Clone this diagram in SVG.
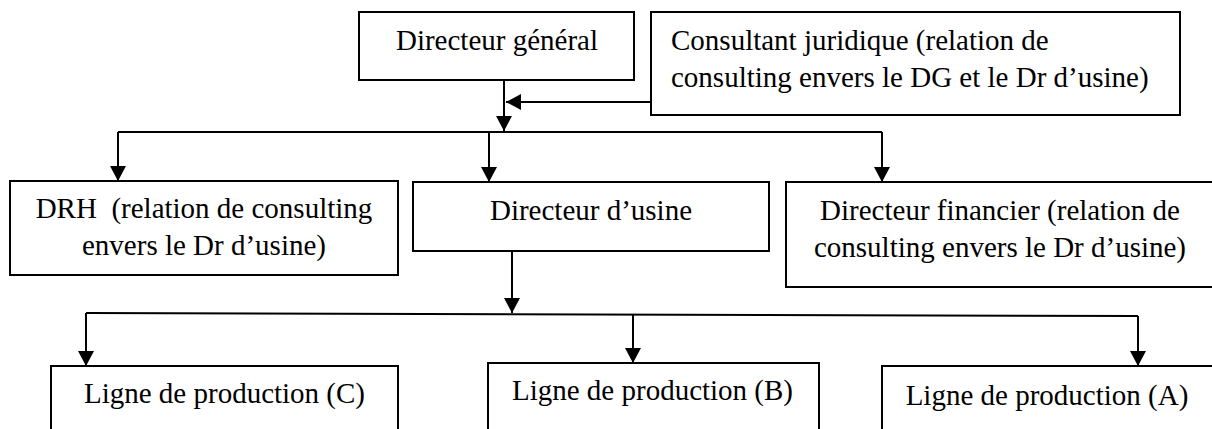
<svg xmlns="http://www.w3.org/2000/svg" width="1212" height="429" viewBox="0 0 1212 429">
  <style>
    .box { fill: #ffffff; stroke: #000000; stroke-width: 2; }
    .lbl { font-family: "Liberation Serif", "Times New Roman", serif; font-size: 29px; fill: #000000; white-space: pre; }
    .mid { text-anchor: middle; }
    .wire { fill: none; stroke: #000000; stroke-width: 2; }
    .arrow { fill: none; stroke: #000000; stroke-width: 2; marker-end: url(#head); }
  </style>
  <defs>
    <!-- solid triangular arrowhead, tip at the end of the line -->
    <marker id="head" viewBox="0 0 15 16" refX="15" refY="8" markerWidth="15" markerHeight="16" markerUnits="userSpaceOnUse" orient="auto">
      <path d="M0,0 L15,8 L0,16 Z" fill="#000000"/>
    </marker>
  </defs>

  <rect width="1212" height="429" fill="#ffffff"/>

  <g id="connectors">
    <path class="arrow" d="M504,80 V131"/>
    <path class="arrow" d="M651,102 H506"/>
    <path class="wire" d="M118,132 H882"/>
    <path class="arrow" d="M118,132 V181"/>
    <path class="arrow" d="M489,132 V182"/>
    <path class="arrow" d="M882,132 V182"/>
    <path class="arrow" d="M512,251 V313"/>
    <path class="wire" d="M86,313 L1138,316"/>
    <path class="arrow" d="M86,313 V366"/>
    <path class="arrow" d="M633,314 V363"/>
    <path class="arrow" d="M1138,316 V366"/>
  </g>

  <g id="directeur-general">
    <rect class="box" x="359" y="12" width="275" height="68"/>
    <text class="lbl mid" x="497" y="50">Directeur général</text>
  </g>

  <g id="consultant-juridique">
    <rect class="box" x="651" y="12" width="529" height="103"/>
    <text class="lbl" x="671" y="50">Consultant juridique (relation de</text>
    <text class="lbl" x="671" y="87">consulting envers le DG et le Dr d’usine)</text>
  </g>

  <g id="drh">
    <rect class="box" x="10" y="181" width="388" height="94"/>
    <text class="lbl mid" x="204" y="218">DRH  (relation de consulting</text>
    <text class="lbl mid" x="204" y="255">envers le Dr d’usine)</text>
  </g>

  <g id="directeur-usine">
    <rect class="box" x="413" y="182" width="356" height="69"/>
    <text class="lbl mid" x="591" y="220">Directeur d’usine</text>
  </g>

  <g id="directeur-financier">
    <rect class="box" x="786" y="182" width="430" height="105"/>
    <text class="lbl mid" x="1000" y="220">Directeur financier (relation de</text>
    <text class="lbl mid" x="1000" y="257">consulting envers le Dr d’usine)</text>
  </g>

  <g id="ligne-c">
    <rect class="box" x="51" y="366" width="347" height="80"/>
    <text class="lbl mid" x="224.5" y="403">Ligne de production (C)</text>
  </g>

  <g id="ligne-b">
    <rect class="box" x="488" y="363" width="331" height="80"/>
    <text class="lbl mid" x="652.5" y="400">Ligne de production (B)</text>
  </g>

  <g id="ligne-a">
    <rect class="box" x="882" y="366" width="334" height="80"/>
    <text class="lbl mid" x="1047" y="405">Ligne de production (A)</text>
  </g>
</svg>
